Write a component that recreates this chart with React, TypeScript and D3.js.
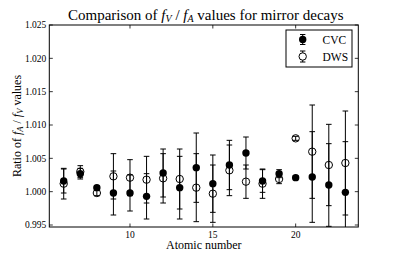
import React from 'react';
import * as d3 from 'd3';

// atomic numbers of the mirror nuclei
const atomicNumbers = [6, 7, 8, 9, 10, 11, 12, 13, 14, 15, 16, 17, 18, 19, 20, 21, 22, 23];

// CVC ratios and uncertainties
const cvcValues = [1.0016, 1.0027, 1.0006, 0.9998, 0.9998, 0.9993, 1.0028, 1.0006, 1.0036, 1.0012, 1.004, 1.0058, 1.0016, 1.0027, 1.0021, 1.0022, 1.001, 0.9999];
const cvcErrors = [0.0018, 0.0008, 0.0003, 0.0033, 0.0027, 0.0034, 0.0036, 0.0047, 0.0052, 0.0043, 0.0037, 0.0024, 0.0017, 0.0006, 0.0003, 0.0068, 0.0062, 0.0076];

// DWS ratios and uncertainties
const dwsValues = [1.0012, 1.003, 0.9998, 1.0023, 1.0021, 1.0018, 1.002, 1.0019, 1.0006, 0.9997, 1.0032, 1.0015, 1.0012, 1.0019, 1.008, 1.006, 1.004, 1.0043];
const dwsErrors = [0.0023, 0.0009, 0.0004, 0.0034, 0.0027, 0.0035, 0.0037, 0.0045, 0.0051, 0.0043, 0.0038, 0.0025, 0.0022, 0.0007, 0.0003, 0.007, 0.0061, 0.0078];

const xTicks = [10, 15, 20];
const yTicks = [0.995, 1.0, 1.005, 1.01, 1.015, 1.02, 1.025];

const W = 398;
const H = 253;
const plot = { left: 49.3, right: 358.3, top: 25, bottom: 227 };
const FONT = "'Liberation Serif', 'Times New Roman', 'DejaVu Serif', serif";

const App: React.FC = () => {
  const x = d3.scaleLinear().domain([5.13, 23.78]).range([plot.left, plot.right]);
  const y = d3.scaleLinear().domain([0.9947, 1.025]).range([plot.bottom, plot.top]);
  const fmt = d3.format('.3f');
  const cap = 2.8;
  const r = 3.7;

  const errorBar = (cx: number, v: number, e: number, key: string) => {
    const y0 = y(v - e);
    const y1 = y(v + e);
    return (
      <g key={key} stroke="#000" strokeWidth={1}>
        <line x1={cx} x2={cx} y1={y0} y2={y1} />
        <line x1={cx - cap} x2={cx + cap} y1={y0} y2={y0} />
        <line x1={cx - cap} x2={cx + cap} y1={y1} y2={y1} />
      </g>
    );
  };

  return (
    <svg
      width={W}
      height={H}
      style={{ position: 'absolute', left: 0, top: 0, background: '#fff', fontFamily: FONT }}
    >
      <defs>
        <clipPath id="plot-clip">
          <rect x={plot.left} y={plot.top} width={plot.right - plot.left} height={plot.bottom - plot.top} />
        </clipPath>
      </defs>

      {/* title with math subscripts */}
      <text x={(plot.left + plot.right) / 2 + 2} y={19.5} textAnchor="middle" fontSize={15}>
        Comparison of <tspan fontStyle="italic">f</tspan>
        <tspan fontSize={10} fontStyle="italic" dy={2.5}>V</tspan>
        <tspan dy={-2.5}> / </tspan>
        <tspan fontStyle="italic">f</tspan>
        <tspan fontSize={10} fontStyle="italic" dy={2.5}>A</tspan>
        <tspan dy={-2.5}> values for mirror decays</tspan>
      </text>

      {/* data */}
      <g clipPath="url(#plot-clip)">
        {atomicNumbers.map((z, i) => errorBar(x(z), cvcValues[i], cvcErrors[i], 'ce' + i))}
        {atomicNumbers.map((z, i) => (
          <circle key={'c' + i} cx={x(z)} cy={y(cvcValues[i])} r={r} fill="#000" />
        ))}
        {atomicNumbers.map((z, i) => errorBar(x(z), dwsValues[i], dwsErrors[i], 'de' + i))}
        {atomicNumbers.map((z, i) => (
          <circle key={'d' + i} cx={x(z)} cy={y(dwsValues[i])} r={r} fill="none" stroke="#000" strokeWidth={1} />
        ))}
      </g>

      {/* frame */}
      <rect
        x={plot.left}
        y={plot.top}
        width={plot.right - plot.left}
        height={plot.bottom - plot.top}
        fill="none"
        stroke="#000"
        strokeWidth={1}
      />

      {/* x ticks */}
      {xTicks.map((t) => (
        <g key={'xt' + t} stroke="#000" strokeWidth={0.8}>
          <line x1={x(t)} x2={x(t)} y1={plot.bottom} y2={plot.bottom - 3.5} />
          <line x1={x(t)} x2={x(t)} y1={plot.top} y2={plot.top + 3.5} />
        </g>
      ))}
      {xTicks.map((t) => (
        <text key={'xl' + t} x={x(t)} y={237.5} textAnchor="middle" fontSize={9.5}>
          {t}
        </text>
      ))}

      {/* y ticks */}
      {yTicks.map((t) => (
        <g key={'yt' + t} stroke="#000" strokeWidth={0.8}>
          <line x1={plot.left} x2={plot.left + 3.5} y1={y(t)} y2={y(t)} />
          <line x1={plot.right} x2={plot.right - 3.5} y1={y(t)} y2={y(t)} />
        </g>
      ))}
      {yTicks.map((t) => (
        <text key={'yl' + t} x={plot.left - 3} y={y(t) + 3.3} textAnchor="end" fontSize={9.5}>
          {fmt(t)}
        </text>
      ))}

      {/* axis labels */}
      <text x={(plot.left + plot.right) / 2} y={249} textAnchor="middle" fontSize={12}>
        Atomic number
      </text>
      <text
        transform={`translate(21, ${(plot.top + plot.bottom) / 2}) rotate(-90)`}
        textAnchor="middle"
        fontSize={12}
      >
        Ratio of <tspan fontStyle="italic">f</tspan>
        <tspan fontSize={8.5} fontStyle="italic" dy={2}>A</tspan>
        <tspan dy={-2}> / </tspan>
        <tspan fontStyle="italic">f</tspan>
        <tspan fontSize={8.5} fontStyle="italic" dy={2}>V</tspan>
        <tspan dy={-2}> values</tspan>
      </text>

      {/* legend */}
      <rect x={286} y={30} width={66} height={37} fill="#fff" stroke="#000" strokeWidth={1} />
      <g stroke="#000" strokeWidth={1}>
        <line x1={302.7} x2={302.7} y1={34.5} y2={44.5} />
        <line x1={300} x2={305.4} y1={34.5} y2={34.5} />
        <line x1={300} x2={305.4} y1={44.5} y2={44.5} />
        <line x1={302.7} x2={302.7} y1={51} y2={62} />
        <line x1={300} x2={305.4} y1={51} y2={51} />
        <line x1={300} x2={305.4} y1={62} y2={62} />
      </g>
      <circle cx={302.7} cy={39.5} r={r} fill="#000" />
      <circle cx={302.7} cy={56.5} r={r} fill="#fff" stroke="#000" strokeWidth={1} />
      <text x={322.5} y={43.5} fontSize={11.5}>CVC</text>
      <text x={322.5} y={60.5} fontSize={11.5}>DWS</text>
    </svg>
  );
};

export default App;
